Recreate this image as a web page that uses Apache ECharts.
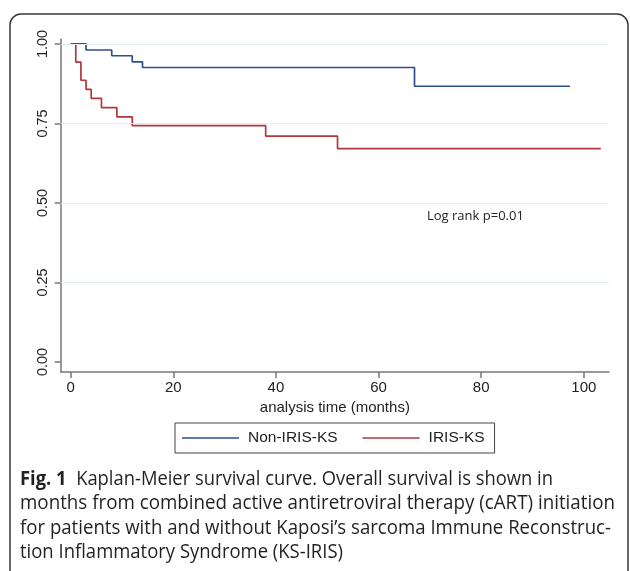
<!DOCTYPE html>
<html>
<head>
<meta charset="utf-8">
<script src="https://cdn.jsdelivr.net/npm/echarts@6/dist/echarts.min.js"></script>
<style>
html,body{margin:0;padding:0;background:#fff;}
#main{width:630px;height:571px;}
</style>
</head>
<body>
<div id="main"></div>
<script>
// ---- data ----
var seriesNames = ['Non-IRIS-KS', 'IRIS-KS'];
var nonIrisTimes = [0, 3, 8, 12, 14, 67, 97.3];
var nonIrisSurv  = [1.0, 0.981, 0.963, 0.944, 0.926, 0.867, 0.867];
var irisTimes = [0, 1, 2, 3, 4, 6, 9, 12, 38, 52, 103.3];
var irisSurv  = [1.0, 0.943, 0.886, 0.857, 0.829, 0.800, 0.771, 0.743, 0.710, 0.671, 0.671];
var xTicks = [0, 20, 40, 60, 80, 100];
var yTicks = [0, 0.25, 0.5, 0.75, 1.0];
var yGrid = [0.25, 0.5, 0.75, 1.0];
var xTitle = 'analysis time (months)';
var annotation = 'Log rank p=0.01';
var captionBold = 'Fig. 1';
var captionLines = [
  '  Kaplan-Meier survival curve. Overall survival is shown in',
  'months from combined active antiretroviral therapy (cART) initiation',
  'for patients with and without Kaposi\u2019s sarcoma Immune Reconstruc-',
  'tion Inflammatory Syndrome (KS-IRIS)'
];

function pairs(xs, ys) { return xs.map(function (x, i) { return [x, ys[i]]; }); }

// caption: condense each line horizontally to the reference's line widths
var capFont = 'Open Sans';
var capSize = 19.5;
var capTargetW = [533, 595, 591, 323];
var capY = [479, 503.5, 528, 552.5];
var cv = document.createElement('canvas').getContext('2d');
function measure(t, bold) {
  cv.font = (bold ? 'bold ' : '') + capSize + 'px "' + capFont + '"';
  return cv.measureText(t).width;
}

var graphics = [
  { type: 'rect', z: -10, shape: { x: 10, y: 14, width: 618, height: 640, r: 11 },
    style: { fill: 'none', stroke: '#3a3a3a', lineWidth: 1.5 } },
  { type: 'text', x: 427, y: 216,
    style: { text: annotation, fontFamily: 'Open Sans', fontSize: 13, fill: '#222', verticalAlign: 'middle' } }
];
captionLines.forEach(function (t, i) {
  var w = measure(t, false) + (i === 0 ? measure(captionBold, true) : 0);
  var txt = (i === 0 ? '{b|' + captionBold + '}' : '') + t;
  graphics.push({
    type: 'text', x: 20, y: capY[i], scaleX: capTargetW[i] / w,
    style: { text: txt, fontFamily: capFont, fontSize: capSize, fill: '#231f20', verticalAlign: 'middle',
      rich: { b: { fontFamily: capFont, fontSize: capSize, fontWeight: 'bold', fill: '#231f20', verticalAlign: 'middle' } } }
  });
});

var axisFont = 'Liberation Sans';
var chart = echarts.init(document.getElementById('main'), null, { renderer: 'canvas' });
chart.setOption({
  animation: false,
  backgroundColor: '#fff',
  grid: { left: 60.7, right: 21, top: 39.2, bottom: 199, containLabel: false },
  legend: {
    data: seriesNames,
    left: 175, top: 423,
    orient: 'horizontal',
    icon: 'rect', itemWidth: 57, itemHeight: 1.6, itemGap: 25,
    padding: [7, 10, 7, 7],
    borderColor: '#444', borderWidth: 1,
    textStyle: { fontFamily: axisFont, fontSize: 15.5, color: '#222', padding: [0, 0, 0, 4] }
  },
  xAxis: {
    type: 'value', min: -1.94, max: 104.9,
    name: xTitle, nameLocation: 'middle', nameGap: 27,
    nameTextStyle: { fontFamily: axisFont, fontSize: 15, color: '#222' },
    axisLine: { show: true, onZero: false, lineStyle: { color: '#777', width: 1.5 } },
    axisTick: { show: true, length: 6, customValues: xTicks, lineStyle: { color: '#777', width: 1.5 } },
    axisLabel: { customValues: xTicks, margin: 8, fontFamily: axisFont, fontSize: 15, color: '#222' },
    splitLine: { show: false }
  },
  yAxis: {
    type: 'value', min: -0.0314, max: 1.015,
    axisLine: { show: true, onZero: false, lineStyle: { color: '#777', width: 1.5 } },
    axisTick: { show: true, length: 6, customValues: yTicks, lineStyle: { color: '#777', width: 1.5 } },
    axisLabel: { customValues: yTicks, rotate: 90, margin: 10, fontFamily: axisFont, fontSize: 14.5, color: '#222',
      formatter: function (v) { return v.toFixed(2); } },
    splitLine: { show: false }
  },
  series: [
    {
      name: 'grid', type: 'line', data: [], z: 1, silent: true,
      markLine: { silent: true, symbol: 'none', label: { show: false },
        lineStyle: { color: '#e4ecf0', width: 1, type: 'solid' },
        data: yGrid.map(function (v) { return { yAxis: v }; }) }
    },
    {
      name: seriesNames[0], type: 'line', step: 'end', showSymbol: false, z: 3,
      color: '#2d4f8b', lineStyle: { color: '#2d4f8b', width: 1.7 },
      data: pairs(nonIrisTimes, nonIrisSurv)
    },
    {
      name: seriesNames[1], type: 'line', step: 'end', showSymbol: false, z: 3,
      color: '#b2363c', lineStyle: { color: '#b2363c', width: 1.7 },
      data: pairs(irisTimes, irisSurv)
    }
  ],
  graphic: graphics
});
</script>
</body>
</html>
